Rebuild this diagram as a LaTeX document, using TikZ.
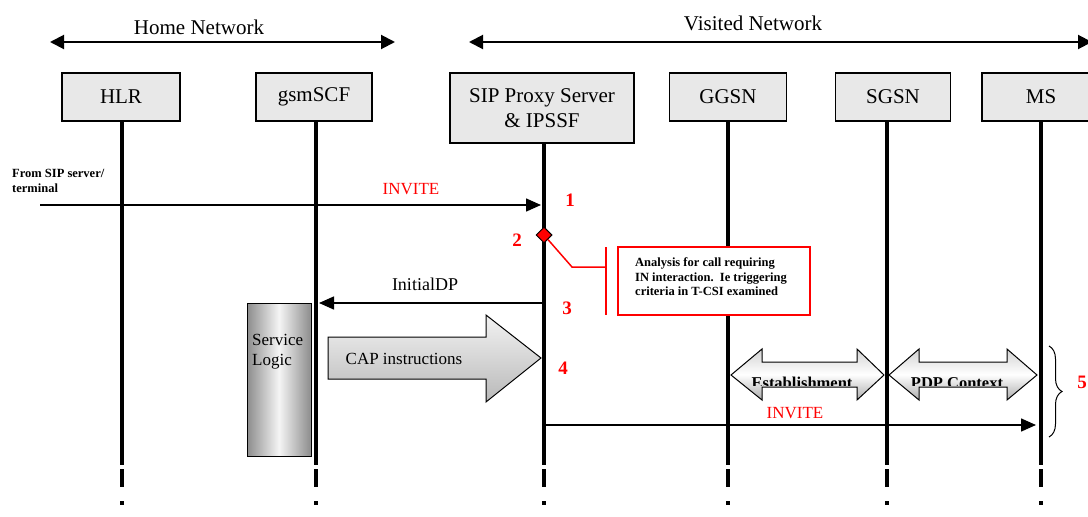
\documentclass[tikz,border=0pt]{standalone}
\usepackage{fontspec}
\setmainfont{Liberation Serif}
\usetikzlibrary{arrows.meta,shapes.geometric,decorations.pathreplacing}

\begin{document}
\begin{tikzpicture}[x=1pt,y=-1pt,
  ent/.style={draw=black,line width=1.2pt,fill=gray!18,minimum height=48pt,inner sep=0pt,
    font=\fontsize{21}{25}\selectfont,align=center},
  life/.style={line width=4pt},
  hdr/.style={line width=2pt,{Triangle[length=14pt,width=14pt]}-{Triangle[length=14pt,width=14pt]}},
  msg/.style={line width=1.5pt,-{Triangle[length=15pt,width=13pt]}},
  num/.style={text=red,font=\fontsize{19}{22}\selectfont\bfseries,inner sep=0pt},
  lbl/.style={font=\fontsize{18}{21}\selectfont,inner sep=0pt},
  redlbl/.style={text=red,font=\fontsize{17}{20}\selectfont,inner sep=0pt},
  small/.style={font=\fontsize{12.5}{15}\selectfont\bfseries,align=left,inner sep=0pt},
  bigarrow/.style={draw=black,line width=1pt,top color=gray!10,bottom color=gray!55},
  dblarrow/.style={draw=black,line width=1pt,top color=gray!35,bottom color=gray!65,middle color=white},
  redline/.style={draw=red,line width=1.5pt}
]
\useasboundingbox (0,0) rectangle (1088,517);
\fill[white] (0,0) rectangle (1088,517);

% network headers
\coordinate (hnL) at (50,42);
\coordinate (hnR) at (395,42);
\coordinate (vnL) at (469,42);
\coordinate (vnR) at (1092,42);
\draw[hdr] (hnL) -- (hnR);
\draw[hdr] (vnL) -- (vnR);
\node[font=\fontsize{21}{25}\selectfont,inner sep=0pt] (hn) at (199,27) {Home Network};
\node[font=\fontsize{21}{25}\selectfont,inner sep=0pt] (vn) at (753,23) {Visited Network};

% entities
\node[ent,minimum width=118pt] (hlr) at (121,97) {HLR};
\node[ent,minimum width=116pt] (scf) at (314,97) {gsmSCF};
\node[ent,minimum width=184pt,minimum height=70pt] (sip) at (542,108) {SIP Proxy Server\\\& IPSSF};
\node[ent,minimum width=117pt] (ggsn) at (728,97) {GGSN};
\node[ent,minimum width=115pt] (sgsn) at (893,97) {SGSN};
\node[ent,minimum width=118pt] (ms) at (1041,97) {MS};

% 5: PDP context establishment (drawn under the lifelines)
\path[dblarrow] (731,375) -- (762,349) -- (762,362) -- (857,362) -- (857,349) -- (884,375)
  -- (857,400) -- (857,387) -- (762,387) -- (762,400) -- cycle;
\path[dblarrow] (889,375) -- (919,349) -- (919,362) -- (1007,362) -- (1007,349) -- (1037,375)
  -- (1007,400) -- (1007,387) -- (919,387) -- (919,400) -- cycle;
\begin{scope}
  \clip (731,375) -- (762,349) -- (762,362) -- (857,362) -- (857,349) -- (884,375)
  -- (857,400) -- (857,387) -- (762,387) -- (762,400) -- cycle
  (889,375) -- (919,349) -- (919,362) -- (1007,362) -- (1007,349) -- (1037,375)
  -- (1007,400) -- (1007,387) -- (919,387) -- (919,400) -- cycle;
  \clip (700,363) rectangle (1040,385.5);
  \node[font=\fontsize{16.5}{19}\selectfont\bfseries,inner sep=0pt,anchor=base] (est) at (802,388) {Establishment};
  \node[font=\fontsize{16.5}{19}\selectfont\bfseries,inner sep=0pt,anchor=base] (pdp) at (957,388) {PDP Context};
\end{scope}

% lifelines
\coordinate (hlrE) at (122,465);
\coordinate (scfE) at (316,465);
\coordinate (sipE) at (544,465);
\coordinate (ggsnE) at (728,465);
\coordinate (sgsnE) at (887,465);
\coordinate (msE) at (1041,465);
\foreach \n in {hlr,scf,sip,ggsn,sgsn,ms}{
  \draw[life] (\n.south -| \n E) -- (\n E);
}
\foreach \x in {122,316,544,728,887,1041}{
  \draw[life] (\x,469) -- (\x,487);
  \draw[life] (\x,501) -- (\x,505);
}

% service logic
\node[draw=black,line width=1pt,minimum width=64pt,minimum height=153pt,inner sep=0pt,
  left color=gray!90,right color=gray!90,middle color=gray!8] (sl) at (279,379.5) {};
\node[font=\fontsize{17}{20}\selectfont,align=left,anchor=north west,inner sep=0pt] (sltxt) at (252,334) {Service\\Logic};

% 1: INVITE
\coordinate (from) at (40,205);
\coordinate (inv1E) at (541,205);
\draw[msg] (from) -- (inv1E);
\node[redlbl] (inv1) at (411,189) {INVITE};
\node[small,anchor=west] (fromtxt) at (12,181) {From SIP server/\\terminal};
\node[num] (n1) at (570,200) {1};

% 2: analysis
\node[diamond,draw=black,fill=red,line width=1pt,minimum size=16pt,inner sep=0pt] (d2) at (544,235) {};
\node[num] (n2) at (517,240) {2};
\coordinate (bend) at (572,267);
\coordinate (bar) at (606,267);
\draw[redline] (d2) -- (bend) -- (bar);
\coordinate (barT) at (606,247);
\coordinate (barB) at (606,315);
\draw[redline] (barT) -- (barB);
\node[redline,fill=white,minimum width=192pt,minimum height=68pt,inner sep=0pt] (note) at (714,281) {};
\node[small,anchor=west,font=\fontsize{12.5}{14.5}\selectfont\bfseries] (notetxt) at (635,277)
  {Analysis for call requiring\\IN interaction.\ \ Ie triggering\\criteria in T-CSI examined};

% 3: InitialDP
\coordinate (idpS) at (543,303);
\coordinate (idpE) at (319,303);
\draw[msg] (idpS) -- (idpE);
\node[lbl] (idp) at (425,284) {InitialDP};
\node[num] (n3) at (567,308) {3};

% 4: CAP instructions
\path[bigarrow] (328,337) -- (486,337) -- (486,315) -- (541,358) -- (486,402) -- (486,379) -- (328,379) -- cycle;
\node[font=\fontsize{17}{20}\selectfont,inner sep=0pt] (cap) at (404,359) {CAP instructions};
\node[num] (n4) at (563,368) {4};

% 5: brace
\coordinate (braceT) at (1049,346);
\coordinate (braceB) at (1049,437);
\draw[decorate,decoration={brace,amplitude=13pt},line width=1pt] (braceT) -- (braceB);
\node[num] (n5) at (1082,382) {5};

% INVITE to MS
\coordinate (inv2S) at (544,425);
\coordinate (inv2E) at (1036,425);
\draw[msg] (inv2S) -- (inv2E);
\node[redlbl] (inv2) at (795,413) {INVITE};
\end{tikzpicture}
\end{document}
